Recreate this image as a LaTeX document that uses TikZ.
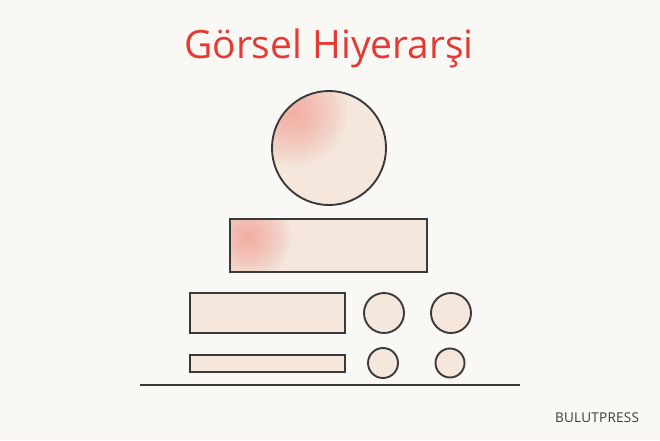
\documentclass[tikz,border=0pt]{standalone}
\usepackage{fontspec}
\setmainfont{Open Sans}
\usepackage{tikz}

\definecolor{paper}{HTML}{FAF8F5}
\definecolor{peach}{HTML}{F5E7DC}
\definecolor{tint}{HTML}{F2857A}
\definecolor{ink}{HTML}{3A3A3A}
\definecolor{titlered}{HTML}{E43A33}

\begin{document}
\begin{tikzpicture}[x=1pt,y=-1pt,
	blob/.style={draw=ink, fill=peach, line width=1.9pt, inner sep=0pt},
	roundblob/.style={blob, circle, minimum size=#1},
	boxblob/.style={blob, rectangle, minimum width=#1},
	redcorner/.style={path picture={\foreach \r in {4,8,...,48} \fill[tint, opacity=0.06] ([xshift=#1, yshift=-#1]path picture bounding box.north west) circle (\r*#1/20);}}]
			\fill[paper] (0,0) rectangle (660,440);
			\useasboundingbox (0,0) rectangle (660,440);

			\node (title) at (329,48) {\fontsize{39}{44}\selectfont\color{titlered}Görsel Hiyerarşi};

			\node (top) at (329,148) [roundblob=114pt, redcorner=22pt] {};
			\node (bar) at (328.5,245.5) [boxblob=197pt, minimum height=53pt, redcorner=18pt] {};
			\node (row1) at (267.5,313) [boxblob=155pt, minimum height=40pt] {};
			\node (row2) at (267.5,363.5) [boxblob=155pt, minimum height=17pt] {};
			\node (c1) at (384,313) [roundblob=40pt] {};
			\node (c2) at (451,313) [roundblob=40pt] {};
			\node (c3) at (383,363) [roundblob=30pt] {};
			\node (c4) at (450,363) [roundblob=29pt] {};

			\coordinate (groundl) at (140,385);
			\coordinate (groundr) at (520,385);
			\draw[ink, line width=1.1pt] (groundl)--(groundr);

			\node (brand) at (597,418) {\fontsize{13.5}{16}\selectfont\addfontfeatures{LetterSpace=2}\color{ink}BULUTPRESS};
		\end{tikzpicture}
\end{document}
